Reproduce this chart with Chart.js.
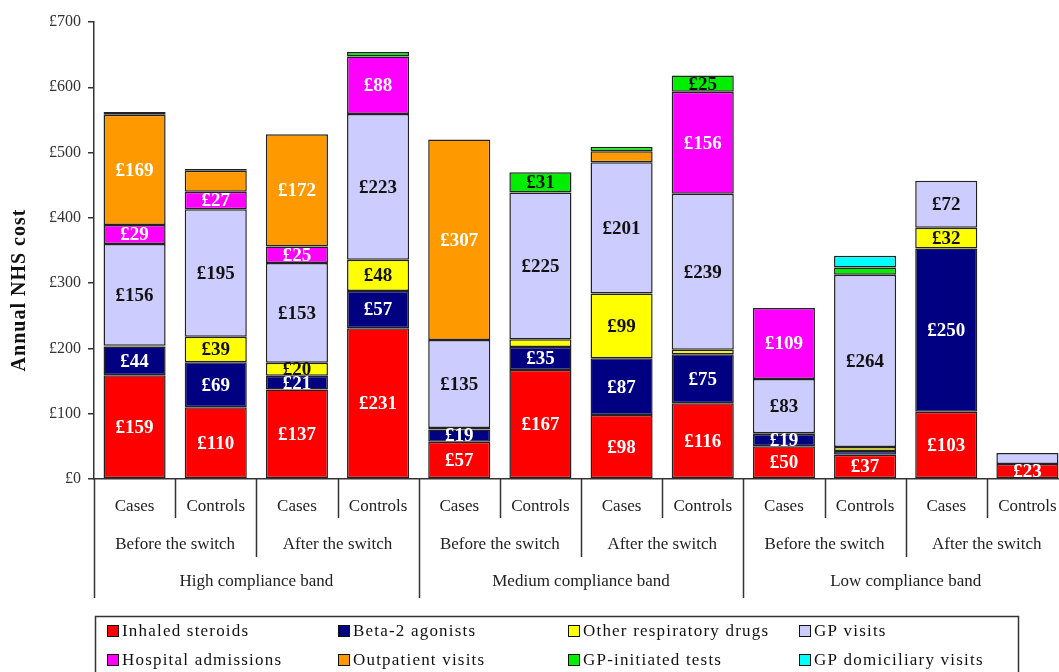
<!DOCTYPE html>
<html>
<head>
<meta charset="utf-8">
<script src="https://cdn.jsdelivr.net/npm/chart.js@4"></script>
<style>
  html, body { margin: 0; padding: 0; overflow: hidden; background: #fff; }
  canvas { display: block; }
</style>
</head>
<body>
<canvas id="chart" width="1068" height="672"></canvas>
<script>
// categories
const groupLabels = ['Cases', 'Controls'];
const periodLabels = ['Before the switch', 'After the switch'];
const bandLabels = ['High compliance band', 'Medium compliance band', 'Low compliance band'];

// series values (one per bar, left to right)
const inhaledSteroids   = [159, 110, 137, 231, 57, 167, 98, 116, 50, 37, 103, 23];
const beta2Agonists     = [44, 69, 21, 57, 19, 35, 87, 75, 19, 6, 250, 0];
const otherDrugs        = [1, 39, 20, 48, 2, 12, 99, 7, 1, 6, 32, 0];
const gpVisits          = [156, 195, 153, 223, 135, 225, 201, 239, 83, 264, 72, 17];
const hospitalAdmissions = [29, 27, 25, 88, 0, 0, 0, 156, 109, 0, 0, 0];
const outpatientVisits  = [169, 32, 172, 0, 307, 0, 17, 0, 0, 0, 0, 0];
const gpTests           = [4, 3, 0, 7, 0, 31, 7, 25, 0, 11, 0, 0];
const gpDomiciliary     = [0, 0, 0, 0, 0, 0, 0, 0, 0, 18, 0, 0];

// y ticks
const yTicks = [0, 100, 200, 300, 400, 500, 600, 700];

// segments the original leaves without a value label: [dataset, bar]
const unlabelled = [[5, 1]];

const labels = [];
bandLabels.forEach(b => periodLabels.forEach(p => groupLabels.forEach(g => labels.push(g))));

const serif = '"Liberation Serif", "Times New Roman", "DejaVu Serif", serif';

const datasets = [
    { label: 'Inhaled steroids', data: inhaledSteroids, backgroundColor: '#ff0000', textColor: '#fff' },
    { label: 'Beta-2 agonists', data: beta2Agonists, backgroundColor: '#000080', textColor: '#fff' },
    { label: 'Other respiratory drugs', data: otherDrugs, backgroundColor: '#ffff00', textColor: '#111' },
    { label: 'GP visits', data: gpVisits, backgroundColor: '#ccccff', textColor: '#111' },
    { label: 'Hospital admissions', data: hospitalAdmissions, backgroundColor: '#ff00ff', textColor: '#fff' },
    { label: 'Outpatient visits', data: outpatientVisits, backgroundColor: '#ff9900', textColor: '#fff' },
    { label: 'GP-initiated tests', data: gpTests, backgroundColor: '#00ee00', textColor: '#111' },
    { label: 'GP domiciliary visits', data: gpDomiciliary, backgroundColor: '#00ffff', textColor: '#111' }
].map(d => Object.assign(d, {
    borderColor: '#222',
    borderWidth: 1.5,
    borderSkipped: false,
    barPercentage: 0.765,
    categoryPercentage: 1
}));

// value labels inside the segments
const segmentLabels = {
    id: 'segmentLabels',
    afterDatasetsDraw(chart) {
        const ctx = chart.ctx;
        ctx.save();
        ctx.font = 'bold 19px ' + serif;
        ctx.textAlign = 'center';
        ctx.textBaseline = 'middle';
        chart.data.datasets.forEach((ds, i) => {
            const meta = chart.getDatasetMeta(i);
            meta.data.forEach((bar, j) => {
                const v = ds.data[j];
                if (v < 19) return;
                if (unlabelled.some(u => u[0] === i && u[1] === j)) return;
                ctx.fillStyle = ds.textColor;
                ctx.fillText('£' + v, bar.x, (bar.y + bar.base) / 2 + 1);
            });
        });
        ctx.restore();
    }
};

// grouped category axis, y title and legend box
const decorations = {
    id: 'decorations',
    afterDraw(chart) {
        const ctx = chart.ctx;
        const xs = chart.scales.x;
        const bottom = chart.chartArea.bottom;
        const catW = (xs.right - xs.left) / labels.length;
        ctx.save();

        // separator lines under the axis
        ctx.strokeStyle = '#333';
        ctx.lineWidth = 1.5;
        for (let i = 0; i <= labels.length; i++) {
            const x = Math.round(xs.left + i * catW) + 0.5;
            const depth = i % 4 === 0 ? 598 : (i % 2 === 0 ? 557 : 518);
            ctx.beginPath();
            ctx.moveTo(x, bottom);
            ctx.lineTo(x, depth);
            ctx.stroke();
        }

        ctx.fillStyle = '#222';
        ctx.font = '17px ' + serif;
        ctx.textAlign = 'center';
        ctx.textBaseline = 'middle';
        labels.forEach((l, j) => ctx.fillText(l, xs.getPixelForValue(j), 507));
        for (let k = 0; k < labels.length / 2; k++) {
            ctx.fillText(periodLabels[k % 2], xs.left + (2 * k + 1) * catW, 545);
        }
        bandLabels.forEach((b, k) => ctx.fillText(b, xs.left + (4 * k + 2) * catW, 582));

        // y axis title
        ctx.save();
        ctx.translate(20, 290);
        ctx.rotate(-Math.PI / 2);
        ctx.font = 'bold 20px ' + serif;
        ctx.letterSpacing = '1px';
        ctx.fillStyle = '#111';
        ctx.fillText('Annual NHS cost', 0, 0);
        ctx.restore();

        // legend
        ctx.strokeStyle = '#333';
        ctx.lineWidth = 1.5;
        ctx.strokeRect(95.5, 616.5, 923, 80);
        const colX = [107, 338, 568, 799];
        const rowY = [631, 660];
        ctx.font = '17px ' + serif;
        ctx.letterSpacing = '1.2px';
        ctx.textAlign = 'left';
        chart.data.datasets.forEach((ds, i) => {
            const x = colX[i % 4];
            const y = rowY[Math.floor(i / 4)];
            ctx.fillStyle = ds.backgroundColor;
            ctx.fillRect(x, y - 6, 12, 12);
            ctx.lineWidth = 1;
            ctx.strokeStyle = '#111';
            ctx.strokeRect(x + 0.5, y - 5.5, 11, 11);
            ctx.fillStyle = '#111';
            ctx.fillText(ds.label, x + 15, y + 1);
        });
        ctx.restore();
    }
};

new Chart(document.getElementById('chart'), {
    type: 'bar',
    data: { labels: labels, datasets: datasets },
    plugins: [segmentLabels, decorations],
    options: {
        responsive: false,
        animation: false,
        layout: { padding: { top: 22, left: 0, right: 0, bottom: 0 } },
        plugins: {
            legend: { display: false },
            tooltip: { enabled: false }
        },
        scales: {
            x: {
                stacked: true,
                grid: { display: false },
                border: { display: true, color: '#333', width: 1.5 },
                ticks: { display: false },
                afterFit: s => { s.height = 193; }
            },
            y: {
                stacked: true,
                min: 0,
                max: 700,
                afterBuildTicks: s => { s.ticks = yTicks.map(v => ({ value: v })); },
                afterFit: s => { s.width = 94; },
                grid: { display: true, drawOnChartArea: false, drawTicks: true, tickLength: 6, color: '#333', lineWidth: 1.5 },
                border: { display: true, color: '#333', width: 1.5 },
                ticks: {
                    padding: 7,
                    color: '#333',
                    font: { family: serif, size: 16 },
                    callback: v => '£' + v
                }
            }
        }
    }
});
</script>
</body>
</html>
